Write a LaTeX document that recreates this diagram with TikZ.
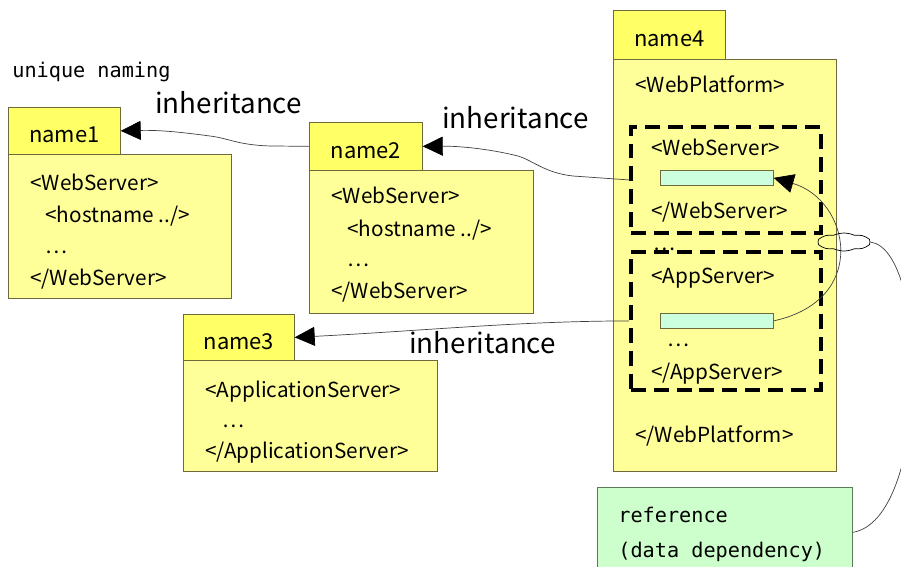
\documentclass[tikz,border=0pt]{standalone}
\usepackage{fontspec}
\setmainfont{Noto Sans CJK JP}
\newfontfamily\monofont{DejaVu Sans Mono}
\usetikzlibrary{arrows.meta,shapes.symbols}
\definecolor{tabyellow}{HTML}{FFFF66}
\definecolor{bodyyellow}{HTML}{FFFF99}
\definecolor{frame}{HTML}{6E6A3C}
\definecolor{slotgreen}{HTML}{CCFFDD}
\definecolor{refgreen}{HTML}{CCFFCC}
\definecolor{refframe}{HTML}{5A7A5A}
\begin{document}
\begin{tikzpicture}[x=0.02cm,y=-0.02cm,
    tab/.style={draw=frame,fill=tabyellow,anchor=north west,inner sep=0pt,
      text height=0.48cm,text depth=0pt,font=\fontsize{12.5}{15}\selectfont},
    body/.style={draw=frame,fill=bodyyellow,anchor=north west,inner sep=0pt},
    txt/.style={anchor=base west,inner sep=0pt,font=\fontsize{11.8}{14}\selectfont},
    lbl/.style={anchor=base west,inner sep=0pt,font=\fontsize{15.8}{18}\selectfont},
    note/.style={anchor=base west,inner sep=0pt,font=\monofont\fontsize{11.5}{14}\selectfont},
    zone/.style={draw,line width=2.2pt,dash pattern=on 8.5pt off 4.5pt,
      anchor=north west,inner sep=0pt,minimum width=3.8cm},
    slot/.style={draw=frame,fill=slotgreen,anchor=north west,inner sep=0pt,
      minimum width=2.26cm,minimum height=0.3cm},
    link/.style={draw=black!75,line width=0.4pt},
    inherit/.style={link,-{Triangle[length=0.4cm,width=0.38cm,black]}}]
    \useasboundingbox (0,0) rectangle (901,566);
    \clip (0,0) rectangle (901,566);
    \node[note] (naming) at (12,77) {unique naming};
    \node[body,minimum width=4.46cm,minimum height=2.88cm] (b1) at (8,154) {};
    \node[tab,minimum width=2.24cm,minimum height=0.94cm] (n1) at (8,107) {name1};
    \node[txt] (b11) at (30,190) {<WebServer>};
    \node[txt] (b12) at (45,222) {<hostname ../>};
    \node[txt] (b13) at (45,253) {…};
    \node[txt] (b14) at (30,285) {</WebServer>};
    \node[body,minimum width=4.48cm,minimum height=2.86cm] (b2) at (309,170) {};
    \node[tab,minimum width=2.26cm,minimum height=0.96cm] (n2) at (309,122) {name2};
    \node[txt] (b21) at (331,203) {<WebServer>};
    \node[txt] (b22) at (347,236) {<hostname ../>};
    \node[txt] (b23) at (347,266) {…};
    \node[txt] (b24) at (331,298) {</WebServer>};
    \node[body,minimum width=5.08cm,minimum height=2.22cm] (b3) at (183,360) {};
    \node[tab,minimum width=2.22cm,minimum height=0.92cm] (n3) at (183,314) {name3};
    \node[txt] (b31) at (205,397) {<ApplicationServer>};
    \node[txt] (b32) at (222,427) {…};
    \node[txt] (b33) at (205,458) {</ApplicationServer>};
    \node[body,minimum width=4.46cm,minimum height=8.24cm] (b4) at (613,59) {};
    \node[tab,minimum width=2.24cm,minimum height=0.98cm] (n4) at (613,10) {name4};
    \node[txt] (b41) at (635,92) {<WebPlatform>};
    \node[zone,minimum height=2.12cm] (zws) at (629,125) {};
    \node[txt] (b42) at (651,155) {<WebServer>};
    \node[slot] (sws) at (660,170) {};
    \node[txt] (b43) at (651,218) {</WebServer>};
    \node[zone,minimum height=2.76cm] (zapp) at (629,250) {};
    \node[txt] (b44) at (653,250) {…};
    \node[txt] (b45) at (651,283) {<AppServer>};
    \node[slot] (sapp) at (660,313) {};
    \node[txt] (b46) at (667,346) {…};
    \node[txt] (b47) at (651,379) {</AppServer>};
    \node[txt] (b48) at (635,442) {</WebPlatform>};
    \node[draw=refframe,fill=refgreen,anchor=north west,minimum width=5.1cm,
      minimum height=1.8cm] (ref) at (597,487) {};
    \node[note] (ref1) at (618,522) {reference};
    \node[note] (ref2) at (618,557) {(data dependency)};
    \node[lbl] (i1) at (155,113) {inheritance};
    \node[lbl] (i2) at (442,128) {inheritance};
    \node[lbl] (i3) at (409,353) {inheritance};
    \draw[inherit] (n2.west) -- (275,146) .. controls (240,146) and (228,138) .. (210,136)
      .. controls (180,132) and (160,130) .. (n1.east);
    \draw[inherit] (zws.west) -- (573,176) .. controls (545,173) and (532,160) .. (518,156)
      .. controls (490,149) and (460,146) .. (n2.east);
    \draw[inherit] (zapp.west) .. controls (520,321) and (420,331) .. (n3.east);
    \draw[inherit] (sapp.east) .. controls (870,300) and (850,200) .. (sws.east);
    \node[draw,cloud,cloud puffs=8,cloud puff arc=50,aspect=3,inner sep=0pt,
      minimum width=1.04cm,minimum height=0.36cm] (tie) at (844,242) {};
    \draw[link] (tie.east) .. controls (930,250) and (930,520) .. (ref.east);
\end{tikzpicture}
\end{document}
